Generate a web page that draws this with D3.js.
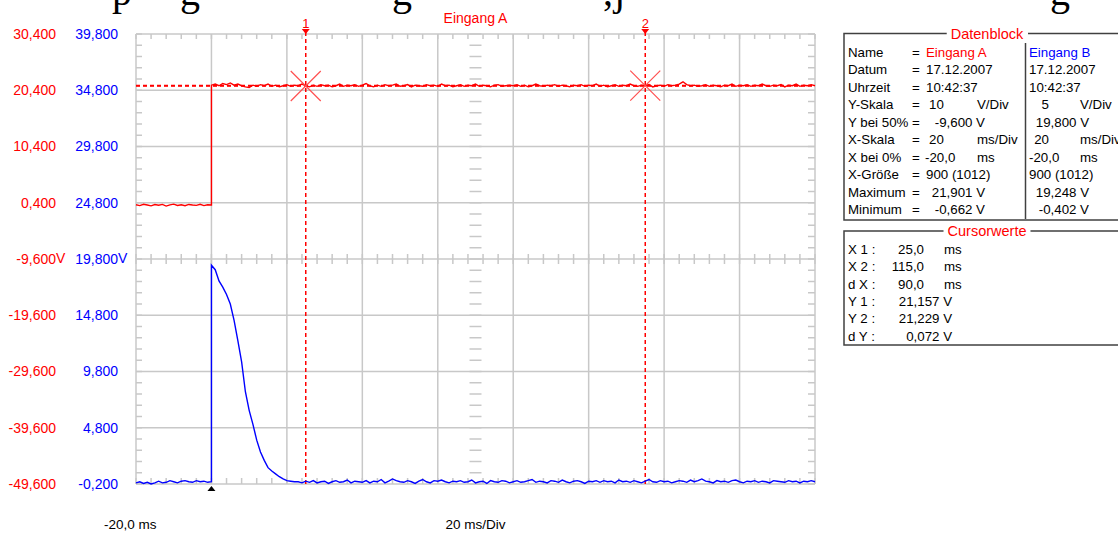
<!DOCTYPE html>
<html>
<head>
<meta charset="utf-8">
<script src="https://cdn.jsdelivr.net/npm/d3@7"></script>
<style>
  body { margin: 0; background: #fff; overflow: hidden; }
  svg { display: block; }
</style>
</head>
<body>
<script>
// ---- data ----
const sampleStep = 1; // ms between stored samples
// Eingang A (red), -20..0 ms and 0..160 ms
const aPre = [0.05,-0.1,0.12,0.0,-0.15,0.08,-0.05,0.1,-0.2,0.02,0.15,-0.08,0.05,-0.12,0.1,0.0,-0.06,0.12,-0.1,0.04,0.0];
const aPost = [
  21.3,21.5,21.2,21.6,21.4,21.7,21.3,21.5,21.2,21.0,20.9,21.3,21.1,21.4,21.2,21.5,21.1,21.3,21.0,21.2,
  21.4,21.1,21.3,21.2,21.5,21.2,21.0,21.3,21.1,21.4,21.2,21.3,21.0,21.2,21.5,21.1,21.3,21.2,21.4,21.1,
  21.3,21.6,21.2,21.0,21.3,21.1,21.4,21.2,21.3,21.5,21.1,21.2,21.4,21.0,21.3,21.2,21.1,21.4,21.2,21.3,
  21.1,21.5,21.2,21.3,21.0,21.2,21.4,21.1,21.3,21.2,21.5,21.1,21.3,21.2,21.0,21.3,21.4,21.1,21.2,21.3,
  21.2,21.4,21.1,21.3,21.0,21.2,21.5,21.2,21.1,21.3,21.2,21.4,21.1,21.3,21.2,21.0,21.3,21.2,21.4,21.1,
  21.3,21.2,21.5,21.1,21.3,21.0,21.2,21.4,21.1,21.3,21.2,21.5,21.2,21.1,21.3,21.2,21.4,21.0,21.2,21.3,
  21.1,21.4,21.2,21.3,21.5,21.9,21.4,21.2,21.3,21.1,21.2,21.4,21.1,21.3,21.2,21.0,21.3,21.2,21.5,21.1,
  21.3,21.2,21.4,21.1,21.3,21.2,21.5,21.2,21.1,21.3,21.2,21.4,21.0,21.3,21.2,21.5,21.1,21.3,21.2,21.4,
  21.2
];
// Eingang B (blue)
const bPre = [-0.1,0.0,-0.15,-0.05,-0.2,-0.1,0.05,-0.1,-0.05,0.1,0.0,-0.1,0.05,0.1,0.0,-0.05,0.1,0.0,0.05,-0.05,0.0];
const bPost = [
  19.25,18.85,17.85,17.3,16.65,15.8,14.35,12.55,10.65,8.0,6.35,5.1,3.7,2.65,1.9,1.25,0.95,0.7,0.45,0.25,0.1,0.05,0.0,
  0.0,-0.1,0.05,-0.05,0.1,-0.1,0.0,0.05,-0.15,0.0,0.1,-0.05,0.0,0.15,-0.1,0.05,0.0,-0.05,0.1,-0.1,
  0.05,0.0,0.2,-0.1,0.05,0.25,0.1,0.0,-0.05,0.1,0.0,-0.15,0.05,0.2,0.0,-0.1,0.1,0.05,0.15,0.0,
  -0.1,0.05,0.0,0.1,-0.05,0.0,0.15,-0.1,0.0,0.05,-0.15,0.1,0.0,-0.05,0.1,0.05,-0.1,0.0,0.1,-0.05,
  0.0,0.1,0.2,-0.05,0.05,0.0,-0.1,0.1,0.05,-0.05,0.15,0.0,-0.1,0.05,0.1,0.0,-0.15,0.05,0.0,0.1,
  -0.05,0.1,0.0,0.05,-0.1,0.15,0.0,0.05,-0.05,0.1,0.0,-0.1,0.05,0.2,0.0,-0.05,0.1,0.0,0.05,-0.1,
  0.0,0.1,0.05,-0.05,0.15,0.0,0.1,0.25,0.05,0.0,-0.1,0.1,0.0,0.05,-0.05,0.1,0.15,0.0,-0.1,0.05,
  0.0,0.1,-0.05,0.05,0.0,-0.1,0.1,0.05,0.0,-0.05,0.1,0.0,0.05,-0.1,0.05,0.0,0.1,0.0
];

const aTicks = [30.4, 20.4, 10.4, 0.4, -9.6, -19.6, -29.6, -39.6, -49.6];
const bTicks = [39.8, 34.8, 29.8, 24.8, 19.8, 14.8, 9.8, 4.8, -0.2];
const aMid = -9.6, bMid = 19.8;
const gridTimes = [-20, 0, 20, 40, 60, 80, 100, 120, 140, 160];
const midTime = 70;
const cursors = [{ id: "1", t: 25.0, v: 21.157 }, { id: "2", t: 115.0, v: 21.229 }];

const blockLabels = ["Name", "Datum", "Uhrzeit", "Y-Skala", "Y bei 50%", "X-Skala", "X bei 0%", "X-Größe", "Maximum", "Minimum"];
const blockA = ["Eingang A", "17.12.2007", "10:42:37", "10", "-9,600 V", "20", "-20,0", "900 (1012)", "21,901 V", "-0,662 V"];
const blockB = ["Eingang B", "17.12.2007", "10:42:37", "5", "19,800 V", "20", "-20,0", "900 (1012)", "19,248 V", "-0,402 V"];
const blockUnits = ["", "", "", "V/Div", "", "ms/Div", "ms", "", "", ""];

// ---- look ----
const FONT = "'Liberation Sans', Arial, sans-serif";
const RED = "#ff0000", BLUE = "#0000ff", GRID = "#c8c8c8";
const W = 1118, H = 534;
const plot = { left: 136, right: 815, top: 34, bottom: 484 };

const de = d3.formatLocale({ decimal: ",", thousands: ".", grouping: [3], currency: ["", " €"], minus: "-" });
const f3 = de.format(".3f"), f1 = de.format(".1f");

const x = d3.scaleLinear().domain([-20, 160]).range([plot.left, plot.right]);
const yA = d3.scaleLinear().domain([-49.6, 30.4]).range([plot.bottom, plot.top]);
const yB = d3.scaleLinear().domain([-0.2, 39.8]).range([plot.bottom, plot.top]);

const svg = d3.select("body").append("svg")
  .attr("width", W).attr("height", H)
  .attr("font-family", FONT);

// cut-off line of the surrounding document (only descenders visible)
svg.append("g")
  .attr("font-family", "'Liberation Serif', 'Times New Roman', serif")
  .attr("font-size", 40)
  .selectAll("text")
  .data([["p", 112], ["g", 180], ["g", 392], [",", 603], ["j", 614], ["g", 1050]])
  .join("text")
    .attr("x", d => d[1]).attr("y", 5)
    .text(d => d[0]);

// ---- grid ----
const grid = svg.append("g").attr("stroke", GRID).attr("stroke-width", 1.5).attr("fill", "none");
grid.selectAll(".v").data(gridTimes).join("line")
  .attr("x1", d => x(d)).attr("x2", d => x(d))
  .attr("y1", plot.top).attr("y2", plot.bottom);
grid.selectAll(".h").data(aTicks).join("line").attr("class", "h")
  .attr("x1", plot.left).attr("x2", plot.right)
  .attr("y1", d => yA(d)).attr("y2", d => yA(d));

const minorT = d3.range(-20, 160.01, 4);
const minorV = d3.range(-49.6, 30.41, 2);
const ticks = svg.append("g").attr("stroke", GRID).attr("stroke-width", 1.5);
const yMid = yA(aMid), xMid = x(midTime);
minorT.forEach(t => {
  ticks.append("line").attr("x1", x(t)).attr("x2", x(t)).attr("y1", plot.top).attr("y2", plot.top + 5);
  ticks.append("line").attr("x1", x(t)).attr("x2", x(t)).attr("y1", plot.bottom - 6).attr("y2", plot.bottom);
  ticks.append("line").attr("x1", x(t)).attr("x2", x(t)).attr("y1", yMid - 5).attr("y2", yMid + 5);
});
minorV.forEach(v => {
  ticks.append("line").attr("x1", plot.left).attr("x2", plot.left + 6).attr("y1", yA(v)).attr("y2", yA(v));
  ticks.append("line").attr("x1", plot.right - 7).attr("x2", plot.right).attr("y1", yA(v)).attr("y2", yA(v));
  ticks.append("line").attr("x1", xMid - 6).attr("x2", xMid + 6).attr("y1", yA(v)).attr("y2", yA(v));
});

// ---- y labels ----
function labelAxis(scale, values, xPos, color, mid) {
  const g = svg.append("g")
    .attr("transform", `translate(${xPos},0)`)
    .call(d3.axisLeft(scale).tickValues(values).tickFormat(f3).tickSize(0).tickPadding(0));
  g.select(".domain").remove();
  g.attr("font-size", 14).attr("font-family", FONT);
  g.selectAll("text").attr("fill", color);
  g.append("text").attr("x", 0).attr("y", scale(mid)).attr("dy", "0.32em")
    .attr("fill", color).attr("text-anchor", "start").text("V");
}
labelAxis(yA, aTicks, 56, RED, aMid);
labelAxis(yB, bTicks, 118, BLUE, bMid);

// ---- cursors (behind traces) ----
const cur = svg.append("g").attr("stroke", RED).attr("stroke-width", 1.5).attr("stroke-dasharray", "4,3");
cursors.forEach(c => {
  cur.append("line").attr("x1", x(c.t)).attr("x2", x(c.t)).attr("y1", plot.top - 2).attr("y2", plot.bottom);
  cur.append("line").attr("x1", plot.left).attr("x2", plot.right).attr("y1", yA(c.v)).attr("y2", yA(c.v));
});

// ---- traces ----
const toPts = (vals, t0) => vals.map((v, i) => [t0 + i * sampleStep, v]);
const traceA = toPts(aPre, -20).concat(toPts(aPost, 0));
const traceB = toPts(bPre, -20).concat(toPts(bPost, 0));

svg.append("path").datum(traceB)
  .attr("fill", "none").attr("stroke", BLUE).attr("stroke-width", 1.4)
  .attr("d", d3.line().x(d => x(d[0])).y(d => yB(d[1])));
svg.append("path").datum(traceA)
  .attr("fill", "none").attr("stroke", RED).attr("stroke-width", 1.4)
  .attr("d", d3.line().x(d => x(d[0])).y(d => yA(d[1])));

// cursor crosses, arrows and numbers
const marks = svg.append("g");
cursors.forEach(c => {
  const cx = x(c.t), cy = yA(c.v), r = 15;
  marks.append("path")
    .attr("d", `M${cx - r},${cy - r}L${cx + r},${cy + r}M${cx - r},${cy + r}L${cx + r},${cy - r}`)
    .attr("stroke", "#ff5050").attr("stroke-width", 1.2);
  marks.append("path")
    .attr("d", `M${cx - 4},${plot.top - 5}L${cx + 4},${plot.top - 5}L${cx},${plot.top}Z`)
    .attr("fill", RED);
  marks.append("text").attr("x", cx).attr("y", 28).attr("text-anchor", "middle")
    .attr("font-size", 13).attr("fill", RED).text(c.id);
});

// trigger marker
const xt = x(0);
svg.append("path").attr("d", `M${xt - 4},${plot.bottom + 7}L${xt + 4},${plot.bottom + 7}L${xt},${plot.bottom + 2}Z`)
  .attr("fill", "#000");

// titles / x labels
svg.append("text").attr("x", xMid).attr("y", 23).attr("text-anchor", "middle")
  .attr("font-size", 14).attr("fill", RED).text("Eingang A");
svg.append("text").attr("x", 104).attr("y", 529).attr("font-size", 13.5).attr("fill", "#000").text(f1(-20) + " ms");
svg.append("text").attr("x", xMid).attr("y", 529).attr("text-anchor", "middle")
  .attr("font-size", 13.5).attr("fill", "#000").text("20 ms/Div");

// ---- right panel ----
const panel = svg.append("g").attr("font-size", 13.3).attr("fill", "#000");
function groupBox(y0, y1, title) {
  panel.append("rect").attr("x", 844).attr("y", y0).attr("width", 300).attr("height", y1 - y0)
    .attr("fill", "none").attr("stroke", "#404040").attr("stroke-width", 1.5);
  const t = panel.append("text").attr("x", 987).attr("y", y0 + 5)
    .attr("text-anchor", "middle").attr("font-size", 14.5).attr("fill", RED).text(title);
  const bb = t.node().getBBox();
  panel.insert("rect", () => t.node())
    .attr("x", bb.x - 4).attr("y", y0 - 3).attr("width", bb.width + 8).attr("height", 6)
    .attr("fill", "#fff");
}
groupBox(33.5, 220, "Datenblock");
groupBox(231, 345, "Cursorwerte");

panel.append("line").attr("x1", 1025.5).attr("x2", 1025.5).attr("y1", 43).attr("y2", 219)
  .attr("stroke", "#404040").attr("stroke-width", 1.5);

blockLabels.forEach((lab, i) => {
  const y = 56.5 + i * 17.5;
  panel.append("text").attr("x", 848).attr("y", y).text(lab);
  panel.append("text").attr("x", 912).attr("y", y).text("=");
  [[blockA[i], 0], [blockB[i], 1]].forEach(([val, col]) => {
    const t = panel.append("text").attr("y", y).text(val);
    if (i === 0) t.attr("fill", col ? BLUE : RED);
    if (val.endsWith(" V")) {
      t.attr("x", col ? 1089 : 985).attr("text-anchor", "end");
    } else if (blockUnits[i]) {
      if (val.startsWith("-")) t.attr("x", col ? 1029 : 925);
      else if (col) t.attr("x", 1049).attr("text-anchor", "end");
      else t.attr("x", 929);
      panel.append("text").attr("x", col ? 1080 : 977).attr("y", y).text(blockUnits[i]);
    } else {
      t.attr("x", col ? 1029 : 926);
    }
  });
});

const dX = cursors[1].t - cursors[0].t, dY = cursors[1].v - cursors[0].v;
const cursorRows = [
  ["X 1 :", f1(cursors[0].t), "ms"],
  ["X 2 :", f1(cursors[1].t), "ms"],
  ["d X :", f1(dX), "ms"],
  ["Y 1 :", f3(cursors[0].v) + " V", ""],
  ["Y 2 :", f3(cursors[1].v) + " V", ""],
  ["d Y :", f3(dY) + " V", ""]
];
cursorRows.forEach(([lab, val, unit], i) => {
  const y = 254 + i * 17.3;
  panel.append("text").attr("x", 848).attr("y", y).text(lab);
  panel.append("text").attr("x", unit ? 924 : 952).attr("y", y).attr("text-anchor", "end").text(val);
  if (unit) panel.append("text").attr("x", 944).attr("y", y).text(unit);
});
</script>
</body>
</html>
